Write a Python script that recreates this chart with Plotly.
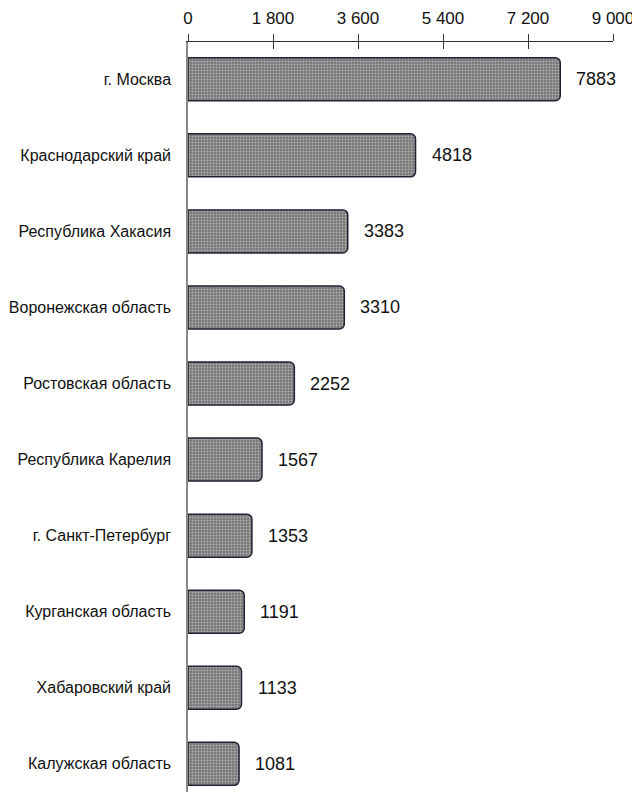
import plotly.graph_objects as go

# --- Data ---
regions = [
    "г. Москва",
    "Краснодарский край",
    "Республика Хакасия",
    "Воронежская область",
    "Ростовская область",
    "Республика Карелия",
    "г. Санкт-Петербург",
    "Курганская область",
    "Хабаровский край",
    "Калужская область",
]
values = [7883, 4818, 3383, 3310, 2252, 1567, 1353, 1191, 1133, 1081]
tick_vals = [0, 1800, 3600, 5400, 7200, 9000]
tick_text = ["0", "1 800", "3 600", "5 400", "7 200", "9 000"]

FONT = "Liberation Sans, Arial, sans-serif"

fig = go.Figure()

fig.add_trace(go.Bar(
    x=values,
    y=regions,
    orientation="h",
    width=0.565,
    marker=dict(
        color="#808080",
        line=dict(color="#1c2230", width=1.5),
        cornerradius=5,
        pattern=dict(shape=".", bgcolor="#777777", fgcolor="#ececec",
                     size=3, solidity=0.35),
    ),
    hoverinfo="x+y",
    showlegend=False,
))

# second x axis only to get the tick marks below the line as well
fig.add_trace(go.Scatter(x=[0], y=[regions[0]], xaxis="x2", mode="markers",
                         marker=dict(opacity=0), showlegend=False, hoverinfo="skip"))

# value labels, a fixed gap to the right of each bar
for r, v in zip(regions, values):
    fig.add_annotation(x=v, y=r, text=str(v), showarrow=False,
                       xanchor="left", xshift=14,
                       font=dict(family=FONT, size=18, color="#111"))

# page body has an 8px margin, so the figure is sized to fit the window
fig.update_layout(
    width=632,
    height=784,
    margin=dict(l=180, r=27, t=34, b=0, autoexpand=False),
    plot_bgcolor="white",
    paper_bgcolor="white",
    font=dict(family=FONT, color="#111"),
    xaxis=dict(
        side="top",
        range=[0, 9000],
        tickvals=tick_vals,
        ticktext=tick_text,
        ticks="outside",
        ticklen=7,
        tickcolor="#333",
        showline=True,
        linecolor="#333",
        linewidth=1,
        showgrid=False,
        zeroline=False,
        automargin=False,
        ticklabelstandoff=3,
        tickfont=dict(size=17, color="#111"),
        fixedrange=True,
    ),
    xaxis2=dict(
        overlaying="x",
        side="top",
        range=[0, 9000],
        tickvals=tick_vals,
        ticks="inside",
        ticklen=7,
        tickcolor="#333",
        showticklabels=False,
        showgrid=False,
        zeroline=False,
        showline=False,
        automargin=False,
    ),
    yaxis=dict(
        range=[9.37, -0.49],
        showline=True,
        linecolor="#888",
        linewidth=1.5,
        showgrid=False,
        zeroline=False,
        ticks="",
        automargin=False,
        ticklabelstandoff=12,
        tickfont=dict(size=16, color="#111"),
    ),
)

fig.write_html("out.html")
